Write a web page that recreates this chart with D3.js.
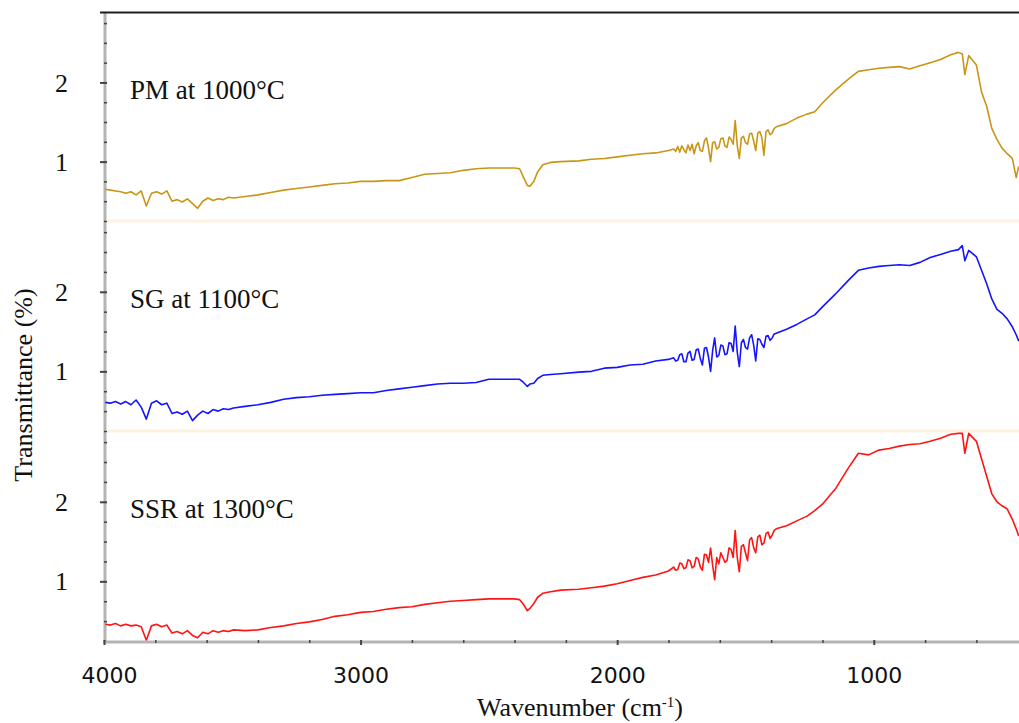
<!DOCTYPE html>
<html>
<head>
<meta charset="utf-8">
<script src="https://cdn.jsdelivr.net/npm/d3@7"></script>
<style>
  html, body { margin: 0; padding: 0; background: #ffffff; }
  svg { display: block; }
</style>
</head>
<body>
<svg id="chart" width="1019" height="723"></svg>
<script>
// ---------------- DATA ----------------
const wavenumbers = [
  3995, 3975, 3955, 3935, 3915, 3895, 3875, 3855, 3835, 3815, 3795, 3775, 3755, 3735, 3715, 3695, 3675, 3655, 3635, 3615, 3595, 3575, 3555, 3535, 3515, 3495,
  3450, 3400, 3350, 3300, 3250, 3200, 3150, 3100, 3050, 3000, 2950, 2900, 2850, 2800, 2750, 2700, 2650, 2600, 2550, 2500, 2450, 2400, 2380, 2365, 2350, 2340, 2325, 2310, 2290, 2260, 2220, 2150, 2100, 2050, 2000, 1950, 1900, 1850, 1800,
  1780, 1772, 1764, 1756, 1748, 1740, 1732, 1724, 1716, 1708, 1700, 1692, 1684, 1676, 1668, 1660, 1652, 1644, 1636, 1628, 1620, 1612, 1604, 1596, 1588, 1580,
  1572, 1564, 1556, 1548, 1540, 1532, 1524, 1516, 1508, 1500, 1492, 1484, 1476, 1468, 1460, 1452, 1444, 1436, 1428, 1420, 1412, 1404, 1396, 1388, 1380,
  1340, 1300, 1260, 1230, 1200, 1150, 1100, 1060, 1020, 980, 940, 900, 860, 820, 780, 740, 700, 670, 655, 645, 630, 600, 580, 560, 540, 520, 500, 480, 460, 445, 435
];

const pmValues = [
  0.65, 0.64, 0.63, 0.62, 0.60, 0.62, 0.58, 0.63, 0.44, 0.60, 0.62, 0.59, 0.63, 0.50, 0.52, 0.49, 0.53, 0.47, 0.41, 0.50, 0.54, 0.51, 0.53, 0.52, 0.55, 0.54,
  0.56, 0.58, 0.61, 0.64, 0.66, 0.68, 0.70, 0.72, 0.73, 0.75, 0.75, 0.76, 0.76, 0.80, 0.84, 0.85, 0.86, 0.89, 0.91, 0.92, 0.92, 0.92, 0.91, 0.80, 0.70, 0.69, 0.75, 0.87, 0.96, 0.99, 1.00, 1.01, 1.03, 1.04, 1.06, 1.08, 1.10, 1.11, 1.14,
  1.16, 1.13, 1.19, 1.12, 1.20, 1.15, 1.11, 1.21, 1.14, 1.22, 1.10, 1.20, 1.24, 1.14, 1.13, 1.26, 1.30, 1.17, 1.00, 1.24, 1.25, 1.16, 1.18, 1.29, 1.30, 1.20,
  1.18, 1.31, 1.28, 1.22, 1.52, 1.20, 1.04, 1.30, 1.32, 1.24, 1.22, 1.35, 1.36, 1.26, 1.14, 1.36, 1.38, 1.30, 1.08, 1.38, 1.40, 1.34, 1.36, 1.42, 1.44,
  1.48, 1.55, 1.60, 1.63, 1.74, 1.90, 2.04, 2.14, 2.16, 2.18, 2.19, 2.20, 2.17, 2.21, 2.25, 2.29, 2.35, 2.38, 2.36, 2.10, 2.34, 2.22, 1.88, 1.70, 1.42, 1.28, 1.17, 1.10, 1.04, 0.80, 0.94
];

const sgValues = [
  0.61, 0.60, 0.62, 0.59, 0.62, 0.58, 0.64, 0.55, 0.40, 0.60, 0.63, 0.58, 0.60, 0.47, 0.49, 0.46, 0.50, 0.38, 0.45, 0.50, 0.47, 0.52, 0.50, 0.53, 0.52, 0.54,
  0.56, 0.58, 0.61, 0.65, 0.67, 0.68, 0.70, 0.71, 0.72, 0.73, 0.73, 0.76, 0.78, 0.80, 0.82, 0.84, 0.85, 0.85, 0.86, 0.90, 0.90, 0.90, 0.90, 0.86, 0.81, 0.84, 0.85, 0.91, 0.95, 0.96, 0.97, 0.99, 1.00, 1.04, 1.05, 1.08, 1.09, 1.13, 1.15,
  1.17, 1.13, 1.14, 1.21, 1.22, 1.12, 1.12, 1.23, 1.25, 1.14, 1.15, 1.27, 1.28, 1.16, 1.08, 1.29, 1.30, 1.18, 1.00, 1.26, 1.42, 1.18, 1.20, 1.33, 1.32, 1.21,
  1.22, 1.36, 1.35, 1.25, 1.57, 1.24, 1.06, 1.36, 1.40, 1.30, 1.28, 1.42, 1.46, 1.33, 1.13, 1.41, 1.40, 1.34, 1.30, 1.44, 1.45, 1.39, 1.42, 1.47, 1.48,
  1.53, 1.59, 1.66, 1.71, 1.81, 1.97, 2.14, 2.27, 2.30, 2.32, 2.33, 2.34, 2.33, 2.37, 2.43, 2.47, 2.51, 2.53, 2.58, 2.39, 2.52, 2.44, 2.27, 2.10, 1.91, 1.78, 1.73, 1.66, 1.56, 1.46, 1.38
];

const ssrValues = [
  0.46, 0.45, 0.47, 0.44, 0.46, 0.44, 0.45, 0.43, 0.26, 0.44, 0.46, 0.43, 0.45, 0.35, 0.37, 0.34, 0.38, 0.32, 0.29, 0.36, 0.34, 0.38, 0.36, 0.38, 0.37, 0.39,
  0.38, 0.39, 0.42, 0.44, 0.47, 0.49, 0.52, 0.56, 0.58, 0.61, 0.62, 0.65, 0.67, 0.68, 0.71, 0.73, 0.75, 0.76, 0.77, 0.78, 0.78, 0.78, 0.77, 0.71, 0.63, 0.66, 0.72, 0.80, 0.85, 0.87, 0.89, 0.90, 0.92, 0.94, 0.97, 1.01, 1.05, 1.08, 1.13,
  1.18, 1.14, 1.15, 1.23, 1.22, 1.16, 1.17, 1.27, 1.26, 1.17, 1.19, 1.30, 1.28, 1.18, 1.14, 1.34, 1.33, 1.24, 1.42, 1.20, 1.02, 1.30, 1.22, 1.36, 1.30, 1.24,
  1.26, 1.42, 1.40, 1.30, 1.64, 1.30, 1.12, 1.44, 1.46, 1.36, 1.26, 1.52, 1.55, 1.42, 1.36, 1.56, 1.58, 1.46, 1.48, 1.60, 1.62, 1.54, 1.58, 1.64, 1.66,
  1.70, 1.76, 1.82, 1.89, 1.97, 2.16, 2.42, 2.61, 2.59, 2.65, 2.67, 2.70, 2.72, 2.73, 2.76, 2.80, 2.85, 2.86, 2.86, 2.61, 2.86, 2.76, 2.54, 2.32, 2.10, 2.00, 1.95, 1.91, 1.78, 1.66, 1.57
];

const seriesNames = ["PM at 1000°C", "SG at 1100°C", "SSR at 1300°C"];
const seriesColors = ["#c99516", "#1414ff", "#ff1414"];
const xTickLabels = [4000, 3000, 2000, 1000];
const xMinorTicks = [4000, 3800, 3600, 3400, 3200, 3000, 2800, 2600, 2400, 2200, 2000, 1800, 1600, 1400, 1200, 1000, 800, 600];
const yTickLabels = [1, 2];
const yMinorTicks = [0.25, 0.5, 0.75, 1, 1.25, 1.5, 1.75, 2, 2.25, 2.5, 2.75];
const xTitle = "Wavenumber (cm";
const yTitle = "Transmittance (%)";

// ---------------- LAYOUT ----------------
const svg = d3.select("#chart");
const plotLeft = 105, plotRight = 1019;
const panelTops = [12, 221, 431];
const panelBottoms = [221, 431, 641];
const serifFont = "'Liberation Serif', 'Times New Roman', serif";
const sansFont = "'DejaVu Sans', sans-serif";

const x = d3.scaleLinear().domain([4000, 434]).range([plotLeft - 1, plotRight]);

const allValues = [pmValues, sgValues, ssrValues];

svg.append("rect").attr("width", 1019).attr("height", 723).attr("fill", "#ffffff");

// left axis gray band
svg.append("line")
  .attr("x1", plotLeft).attr("x2", plotLeft)
  .attr("y1", 12).attr("y2", 642)
  .attr("stroke", "#b4b4b4").attr("stroke-width", 3);

const defs = svg.append("defs");

allValues.forEach((vals, i) => {
  const y = d3.scaleLinear().domain([0.25, 2.89]).range([panelBottoms[i], panelTops[i]]);
  defs.append("clipPath").attr("id", "clip" + i)
    .append("rect")
    .attr("x", plotLeft).attr("y", panelTops[i] + 1)
    .attr("width", plotRight - plotLeft).attr("height", panelBottoms[i] - panelTops[i] - 1);

  if (i < 2) {
    svg.append("line")
      .attr("x1", plotLeft + 1).attr("x2", plotRight)
      .attr("y1", panelBottoms[i]).attr("y2", panelBottoms[i])
      .attr("stroke", "#fdf1df").attr("stroke-width", 3);
  }

  const line = d3.line()
    .x((d, j) => x(wavenumbers[j]))
    .y(d => y(d));

  svg.append("path")
    .datum(vals)
    .attr("clip-path", "url(#clip" + i + ")")
    .attr("fill", "none")
    .attr("stroke", seriesColors[i])
    .attr("stroke-width", 1.6)
    .attr("stroke-linejoin", "round")
    .attr("d", line);

  svg.append("text")
    .attr("x", 130)
    .attr("y", panelTops[i] + 87)
    .attr("font-family", serifFont)
    .attr("font-size", 27)
    .attr("fill", "#111")
    .text(seriesNames[i]);

  const yAxis = d3.axisLeft(y)
    .tickValues(yMinorTicks)
    .tickSize(3)
    .tickPadding(34)
    .tickFormat(d => yTickLabels.includes(d) ? d : "");
  const g = svg.append("g")
    .attr("transform", `translate(${plotLeft},0)`)
    .call(yAxis);
  g.select(".domain").remove();
  g.selectAll(".tick line")
    .attr("x1", d => yTickLabels.includes(d) ? -5 : -1)
    .attr("x2", 2)
    .attr("stroke", "#444")
    .attr("stroke-width", d => yTickLabels.includes(d) ? 2 : 1.5);
  g.selectAll(".tick text")
    .attr("font-family", serifFont)
    .attr("font-size", 26)
    .attr("fill", "#111")
    .attr("dy", "0.33em");
});

// top border
svg.append("line")
  .attr("x1", 100).attr("x2", plotRight)
  .attr("y1", 12.5).attr("y2", 12.5)
  .attr("stroke", "#1e1e1e").attr("stroke-width", 2);

// bottom axis
svg.append("line")
  .attr("x1", plotLeft - 2).attr("x2", plotRight)
  .attr("y1", 642).attr("y2", 642)
  .attr("stroke", "#b4b4b4").attr("stroke-width", 3);

const xAxis = d3.axisBottom(x)
  .tickValues(xMinorTicks)
  .tickSize(2)
  .tickPadding(24)
  .tickFormat(d => xTickLabels.includes(d) ? d : "");
const gx = svg.append("g")
  .attr("transform", "translate(0,641)")
  .call(xAxis);
gx.select(".domain").remove();
gx.selectAll(".tick line")
  .attr("y1", -1)
  .attr("y2", d => xTickLabels.includes(d) ? 4 : 2)
  .attr("stroke", "#444")
  .attr("stroke-width", d => xTickLabels.includes(d) ? 2 : 1.5);
gx.selectAll(".tick text")
  .attr("font-family", sansFont)
  .attr("font-size", 22)
  .attr("fill", "#111")
  .attr("dx", d => d === 4000 ? 5 : 0);

// axis titles
const xt = svg.append("text")
  .attr("x", 580)
  .attr("y", 716)
  .attr("text-anchor", "middle")
  .attr("font-family", serifFont)
  .attr("font-size", 26)
  .attr("fill", "#111");
xt.append("tspan").text(xTitle);
xt.append("tspan").attr("dy", -9).attr("font-size", 15).text("-1");
xt.append("tspan").attr("dy", 9).text(")");

svg.append("text")
  .attr("transform", "translate(32,385) rotate(-90)")
  .attr("text-anchor", "middle")
  .attr("font-family", serifFont)
  .attr("font-size", 26)
  .attr("fill", "#111")
  .text(yTitle);
</script>
</body>
</html>
